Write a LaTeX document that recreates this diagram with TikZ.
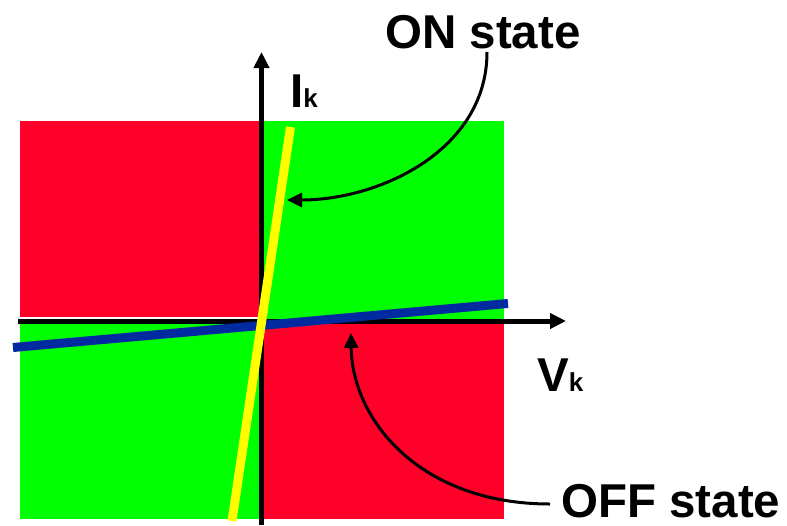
\documentclass[tikz,border=0pt]{standalone}
\usepackage{fontspec}
\setmainfont{Liberation Sans}
\usetikzlibrary{arrows.meta}
\definecolor{qred}{RGB}{255,0,40}
\definecolor{qgreen}{RGB}{0,255,0}
\definecolor{qblue}{RGB}{0,42,160}
\definecolor{qyellow}{RGB}{255,255,0}
\begin{document}
\begin{tikzpicture}[x=1pt,y=-1pt,
  axis/.style={line width=5pt,-{Triangle[length=16pt,width=15pt]}},
  note/.style={line width=3pt,-{Triangle[length=15pt,width=14pt]}},
  big/.style={inner sep=0pt,anchor=base west,font=\bfseries\fontsize{47.5}{50}\selectfont},
  charline/.style={line width=9pt}]
\useasboundingbox (0,0) rectangle (787,525);
% quadrants
\fill[qred]   (20,121)  rectangle (259,317);
\fill[qgreen] (262,121) rectangle (504,321);
\fill[qgreen] (20,321)  rectangle (259,519);
\fill[qred]   (262,321) rectangle (504,519);
% axes
\coordinate (xs) at (18,321);
\coordinate (xe) at (566,321);
\coordinate (ys) at (261.5,525);
\coordinate (ye) at (261.5,52);
\draw[axis] (xs) -- (xe);
\draw[axis] (ys) -- (ye);
% characteristic lines
\coordinate (b1) at (13,347.5);
\coordinate (b2) at (508,303.5);
\coordinate (y1) at (232,521);
\coordinate (y2) at (290.5,127);
\draw[charline,qblue] (b1) -- (b2);
\draw[charline,qyellow] (y1) -- (y2);
% labels
\node[big] (on)  at (385,48)  {ON state};
\node[big] (off) at (561,517) {OFF state};
\node[big] (ik)  at (290,107) {I{\fontsize{26}{26}\selectfont k}};
\node[big] (vk)  at (537,391) {V{\fontsize{26}{26}\selectfont k}};
% annotation arrows
\coordinate (ons) at (487,52);
\coordinate (ont) at (287,200);
\coordinate (offs) at (550,504);
\coordinate (offt) at (351,333);
\draw[note] (ons) .. controls (487,150) and (380,200) .. (ont);
\draw[note] (offs) .. controls (420,504) and (352,420) .. (offt);
\end{tikzpicture}
\end{document}
